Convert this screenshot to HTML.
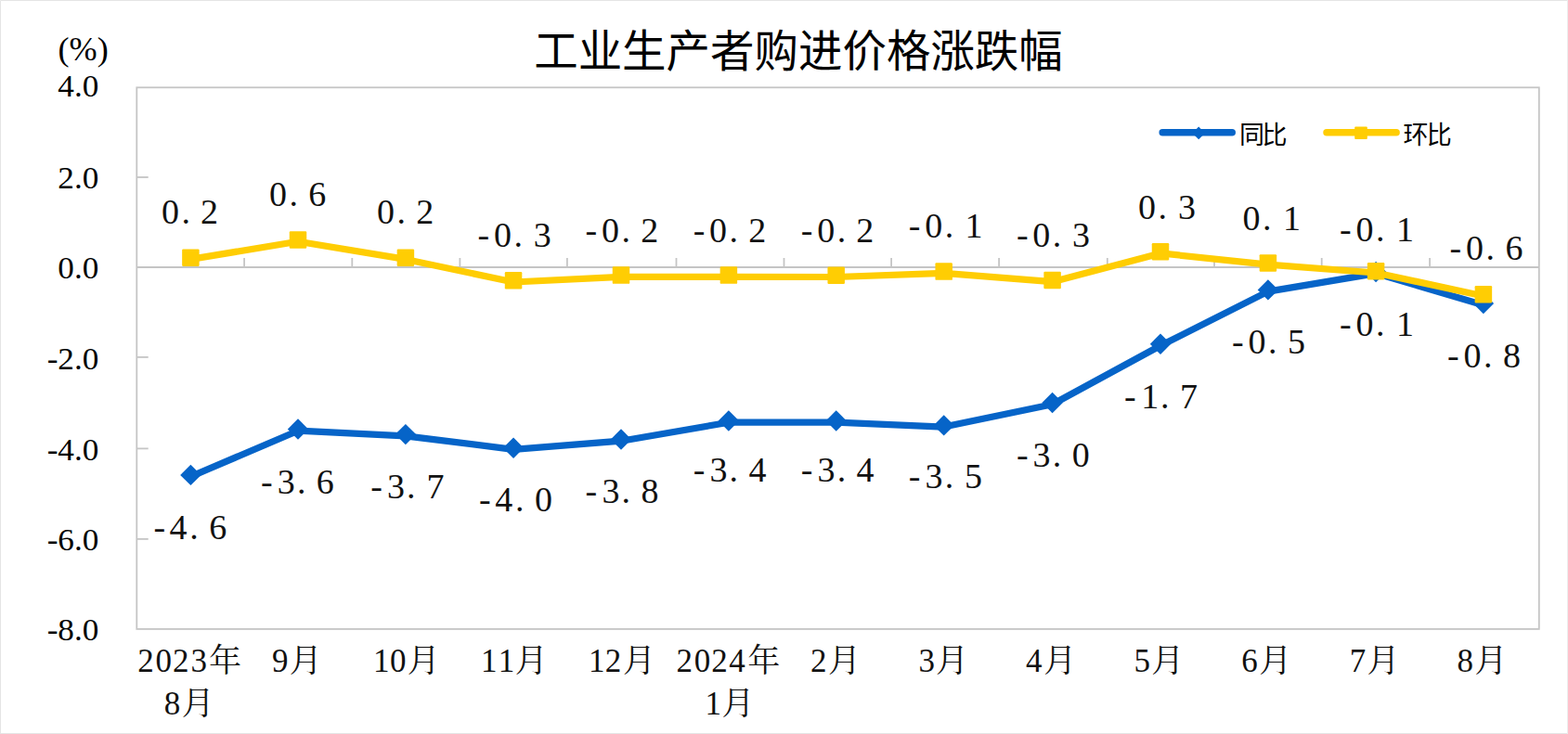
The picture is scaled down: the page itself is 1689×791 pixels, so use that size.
<!DOCTYPE html>
<html><head><meta charset="utf-8"><title>工业生产者购进价格涨跌幅</title>
<style>html,body{margin:0;padding:0;background:#fff;overflow:hidden}svg{display:block}</style>
</head><body>
<svg width="1689" height="791" viewBox="0 0 1689 791">
<rect x="0" y="0" width="1689" height="791" fill="#fff"/>
<path d="M0.5 791V0.5H1689M0 790.5H1689" fill="none" stroke="#e4e4e4" stroke-width="1"/>
<path d="M1688.5 0V791" fill="none" stroke="#ececec" stroke-width="1"/>
<g stroke="#c5c5c5" stroke-width="1.8" fill="none">
<rect x="147.3" y="94.3" width="1510.5" height="583.6"/>
<line x1="147.3" y1="288.0" x2="1657.8" y2="288.0"/>
<line x1="147.3" y1="191.0" x2="159.7" y2="191.0"/>
<line x1="147.3" y1="384.9" x2="159.7" y2="384.9"/>
<line x1="147.3" y1="483.4" x2="159.7" y2="483.4"/>
<line x1="147.3" y1="580.9" x2="159.7" y2="580.9"/>
<line x1="263.1" y1="288.0" x2="263.1" y2="278"/>
<line x1="379.3" y1="288.0" x2="379.3" y2="278"/>
<line x1="495.4" y1="288.0" x2="495.4" y2="278"/>
<line x1="610.9" y1="288.0" x2="610.9" y2="278"/>
<line x1="728.5" y1="288.0" x2="728.5" y2="278"/>
<line x1="844.5" y1="288.0" x2="844.5" y2="278"/>
<line x1="960.1" y1="288.0" x2="960.1" y2="278"/>
<line x1="1076.1" y1="288.0" x2="1076.1" y2="278"/>
<line x1="1192.8" y1="288.0" x2="1192.8" y2="278"/>
<line x1="1308" y1="288.0" x2="1308" y2="278"/>
<line x1="1423.7" y1="288.0" x2="1423.7" y2="278"/>
<line x1="1540.1" y1="288.0" x2="1540.1" y2="278"/>
</g>
<polyline points="205.4,513.59 321,464.2 436.9,469.81 553.05,484.4 669,475.2 784.9,455.21 900.7,455.21 1016.7,460.07 1133.6,435.75 1250,372.5 1365.9,314.12 1482.1,294.67 1597.9,328.72" fill="none" stroke="#0664c8" stroke-width="7.2" stroke-linejoin="round" stroke-linecap="round"/>
<path d="M194.2 511.89L205.4 500.69L216.6 511.89L205.4 523.09Z" fill="#0664c8"/>
<path d="M309.8 462.5L321 451.3L332.2 462.5L321 473.7Z" fill="#0664c8"/>
<path d="M425.7 468.11L436.9 456.91L448.1 468.11L436.9 479.31Z" fill="#0664c8"/>
<path d="M541.85 482.7L553.05 471.5L564.25 482.7L553.05 493.9Z" fill="#0664c8"/>
<path d="M657.8 473.5L669 462.3L680.2 473.5L669 484.7Z" fill="#0664c8"/>
<path d="M773.7 453.51L784.9 442.31L796.1 453.51L784.9 464.71Z" fill="#0664c8"/>
<path d="M889.5 453.51L900.7 442.31L911.9 453.51L900.7 464.71Z" fill="#0664c8"/>
<path d="M1005.5 458.38L1016.7 447.18L1027.9 458.38L1016.7 469.57Z" fill="#0664c8"/>
<path d="M1122.4 434.05L1133.6 422.85L1144.8 434.05L1133.6 445.25Z" fill="#0664c8"/>
<path d="M1238.8 370.81L1250 359.61L1261.2 370.81L1250 382Z" fill="#0664c8"/>
<path d="M1354.7 312.43L1365.9 301.23L1377.1 312.43L1365.9 323.62Z" fill="#0664c8"/>
<path d="M1470.9 292.97L1482.1 281.77L1493.3 292.97L1482.1 304.17Z" fill="#0664c8"/>
<path d="M1586.7 327.02L1597.9 315.82L1609.1 327.02L1597.9 338.22Z" fill="#0664c8"/>
<polyline points="205.4,279.4 321,260.2 436.9,279.4 553.05,304 669,298.3 784.9,298.3 900.7,298.5 1016.7,294.3 1133.6,303.7 1250,272.9 1365.9,285.1 1482.1,294 1597.9,319" fill="none" stroke="#ffcd03" stroke-width="7.2" stroke-linejoin="round" stroke-linecap="round"/>
<rect x="196.15" y="268.45" width="18.5" height="18.5" rx="1.2" fill="#ffcd03"/>
<rect x="311.75" y="249.25" width="18.5" height="18.5" rx="1.2" fill="#ffcd03"/>
<rect x="427.65" y="268.45" width="18.5" height="18.5" rx="1.2" fill="#ffcd03"/>
<rect x="543.8" y="293.05" width="18.5" height="18.5" rx="1.2" fill="#ffcd03"/>
<rect x="659.75" y="287.35" width="18.5" height="18.5" rx="1.2" fill="#ffcd03"/>
<rect x="775.65" y="287.35" width="18.5" height="18.5" rx="1.2" fill="#ffcd03"/>
<rect x="891.45" y="287.55" width="18.5" height="18.5" rx="1.2" fill="#ffcd03"/>
<rect x="1007.45" y="283.35" width="18.5" height="18.5" rx="1.2" fill="#ffcd03"/>
<rect x="1124.35" y="292.75" width="18.5" height="18.5" rx="1.2" fill="#ffcd03"/>
<rect x="1240.75" y="261.95" width="18.5" height="18.5" rx="1.2" fill="#ffcd03"/>
<rect x="1356.65" y="274.15" width="18.5" height="18.5" rx="1.2" fill="#ffcd03"/>
<rect x="1472.85" y="283.05" width="18.5" height="18.5" rx="1.2" fill="#ffcd03"/>
<rect x="1588.65" y="308.05" width="18.5" height="18.5" rx="1.2" fill="#ffcd03"/>
<g fill="#111" font-family="'Liberation Serif', serif" font-size="38">
<text x="173.9 195.4 216" y="241.17">0.2</text>
<text x="290 311.4 332.3" y="221.71">0.6</text>
<text x="406 427.5 448.2" y="241.17">0.2</text>
<text x="514.6 532 553.5 574.8" y="265.5">-0.3</text>
<text x="630.6 648.1 669.6 690.2" y="260.63">-0.2</text>
<text x="746.7 764.1 785.6 806.3" y="260.63">-0.2</text>
<text x="862.8 880.2 901.7 922.3" y="260.63">-0.2</text>
<text x="978.8 996.3 1017.7 1039.6" y="255.77">-0.1</text>
<text x="1094.9 1112.3 1133.8 1155.1" y="265.5">-0.3</text>
<text x="1226 1247.5 1268.9" y="236.31">0.3</text>
<text x="1338.6 1360.1 1382" y="248.04">0.1</text>
<text x="1443.1 1460.5 1482 1503.9" y="260.07">-0.1</text>
<text x="1561.6 1579.1 1600.5 1621.4" y="280.09">-0.6</text>
<text x="165.4 182.6 204.3 225.2" y="580.59">-4.6</text>
<text x="281.1 298.8 320 340.8" y="531.94">-3.6</text>
<text x="399.2 417 438.1 459.4" y="536.81">-3.7</text>
<text x="516.1 533.3 555 576" y="551.4">-4.0</text>
<text x="630.6 648.4 669.6 690.5" y="541.67">-3.8</text>
<text x="746.7 764.5 785.6 806.4" y="518.71">-3.4</text>
<text x="862.8 880.5 901.7 922.5" y="518.71">-3.4</text>
<text x="978.8 996.6 1017.7 1038.9" y="526.08">-3.5</text>
<text x="1094.9 1112.6 1133.8 1154.8" y="502.75">-3.0</text>
<text x="1210.9 1229.3 1249.9 1271.1" y="439.5">-1.7</text>
<text x="1327 1344.4 1365.9 1387.1" y="381.12">-0.5</text>
<text x="1443.1 1460.5 1482 1503.9" y="361.67">-0.1</text>
<text x="1559.1 1576.6 1598 1619" y="395.72">-0.8</text>
</g>
<g fill="#111" font-family="'Liberation Serif', 'Noto Serif CJK SC', serif" font-size="35">
<text x="148.2 167.4 186 205.5 224.9" y="724.2">2023年</text>
<text x="176.8 195.7" y="770.1">8月</text>
<text x="292.9 311.8" y="724.2">9月</text>
<text x="401.9 419.9 438.8" y="724.2">10月</text>
<text x="517.9 536.8 554.8" y="724.2">11月</text>
<text x="634 651.7 670.9" y="724.2">12月</text>
<text x="728.5 747.7 766.3 785.3 805.2" y="724.2">2024年</text>
<text x="759.4 777.4" y="770.1">1月</text>
<text x="872.9 892.1" y="724.2">2月</text>
<text x="989.6 1008.1" y="724.2">3月</text>
<text x="1105.1 1124.2" y="724.2">4月</text>
<text x="1221.6 1240.2" y="724.2">5月</text>
<text x="1337.3 1356.3" y="724.2">6月</text>
<text x="1453.7 1472.4" y="724.2">7月</text>
<text x="1569.5 1588.4" y="724.2">8月</text>
</g>
<g font-family="'Liberation Serif', serif" font-size="33.5" fill="#000" text-anchor="end">
<text transform="translate(106.3 104.4) scale(1.05 1)">4.0</text>
<text transform="translate(106.3 203.2) scale(1.05 1)">2.0</text>
<text transform="translate(106.3 300.2) scale(1.05 1)">0.0</text>
<text transform="translate(106.3 397.6) scale(1.05 1)">-2.0</text>
<text transform="translate(106.3 496.3) scale(1.05 1)">-4.0</text>
<text transform="translate(106.3 593.0) scale(1.05 1)">-6.0</text>
<text transform="translate(106.3 690.0) scale(1.05 1)">-8.0</text>
</g>
<text transform="translate(62.6 64.5) scale(1.023 1)" font-family="'Liberation Serif', serif" font-size="35.3" fill="#000">(%)</text>
<text x="575.2" y="71.5" font-family="'Liberation Sans', 'Noto Sans CJK SC', sans-serif" font-size="47.48" fill="#000">工业生产者购进价格涨跌幅</text>
<line x1="1252.2" y1="142.8" x2="1327.2" y2="142.8" stroke="#0664c8" stroke-width="7.5" stroke-linecap="round"/>
<path d="M1284.4 143.4L1291.2 136.60000000000002L1298 143.4L1291.2 150.20000000000002Z" fill="#0664c8"/>
<line x1="1429" y1="142.8" x2="1504.1" y2="142.8" stroke="#ffcd03" stroke-width="7.5" stroke-linecap="round"/>
<rect x="1459.2" y="136.5" width="13.6" height="13.6" rx="1" fill="#ffcd03"/>
<g fill="#000" font-family="'Liberation Sans', 'Noto Sans CJK SC', sans-serif" font-size="27">
<text x="1334.9 1359.5" y="155">同比</text>
<text x="1511.4 1536.8" y="155">环比</text>
</g>
</svg>
</body></html>
